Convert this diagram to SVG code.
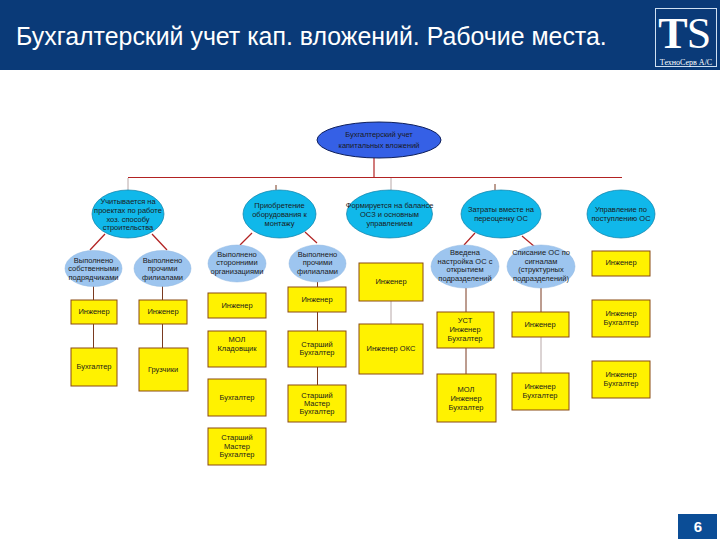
<svg xmlns="http://www.w3.org/2000/svg" width="720" height="540" viewBox="0 0 720 540">
<style>
text{font-family:"Liberation Sans",Arial,sans-serif;text-anchor:middle;fill:#1a1a1a;font-size:7.5px}
.root ellipse{fill:#3560e6;stroke:#10205a;stroke-width:1}
.l1 ellipse{fill:#10b8ea;stroke:#0d7fa8;stroke-width:.7}
.l2 ellipse{fill:#9dc5ef;stroke:#8fb6e0;stroke-width:.5}
.b rect{fill:#fff200;stroke:#8a4a12;stroke-width:1}
#connectors line{stroke:#b22222;stroke-width:1.2}
#connectors line.g{stroke:#b8a8a8;stroke-width:1}
#connectors line.d{stroke:#7a3a20;stroke-width:1}
</style>
<rect width="720" height="540" fill="#fff"/>
<g id="header">
<rect width="720" height="70" fill="#0a3a78"/>
<text x="16" y="45" style="font-size:24.9px;text-anchor:start;fill:#fff">Бухгалтерский учет кап. вложений. Рабочие места.</text>
<rect x="655.500" y="8.500" width="61" height="58" fill="none" stroke="#cfe0f2" stroke-width="1"/>
<text x="673" y="48" style="font-family:'Liberation Serif',serif;font-weight:bold;font-size:44px;fill:#fff">T</text>
<text x="699" y="48" style="font-family:'Liberation Serif',serif;font-size:44px;fill:#fff">S</text>
<text x="686" y="65" style="font-family:'Liberation Serif',serif;font-size:8px;fill:#fff">ТехноСерв А/С</text>
</g>
<g id="connectors">
<line x1="374" y1="158" x2="374" y2="178"/>
<line x1="128" y1="177.500" x2="622" y2="177.500"/>
<line class="g" x1="128" y1="178" x2="128" y2="190"/>
<line class="d" x1="276" y1="185" x2="276" y2="190"/>
<line class="g" x1="391" y1="178" x2="391" y2="190"/>
<line class="d" x1="495" y1="184" x2="495" y2="190"/>
<line x1="105" y1="234" x2="90" y2="250"/>
<line x1="152" y1="234" x2="167" y2="250"/>
<line x1="252" y1="233" x2="240" y2="245"/>
<line x1="305" y1="232" x2="317" y2="243"/>
<line x1="475" y1="233" x2="464" y2="245"/>
<line x1="522" y1="236" x2="535" y2="247"/>
<line class="d" x1="93.500" y1="286" x2="93.500" y2="348"/>
<line class="d" x1="162.500" y1="286" x2="162.500" y2="348"/>
<line class="d" x1="317.500" y1="282" x2="317.500" y2="385"/>
<line class="g" x1="391" y1="301" x2="391" y2="324"/>
<line class="d" x1="466" y1="288" x2="466" y2="374"/>
<line class="d" x1="541" y1="288" x2="541" y2="312"/>
<line class="g" x1="541" y1="337" x2="541" y2="373"/>
</g>
<g id="root" class="root"><ellipse cx="379" cy="140" rx="62" ry="18"/><text x="379" y="137">Бухгалтерский учет</text><text x="379" y="148">капитальных вложений</text></g>
<g id="n1" class="l1"><ellipse cx="128" cy="214" rx="36" ry="24"/><text x="128" y="204">Учитывается на</text><text x="128" y="213">проектах по работе</text><text x="128" y="222">хоз. способу</text><text x="128" y="230">строительства</text></g>
<g id="n2" class="l1"><ellipse cx="279.500" cy="214" rx="36.500" ry="24"/><text x="279.500" y="208">Приобретение</text><text x="279.500" y="217">оборудования к</text><text x="279.500" y="226">монтажу</text></g>
<g id="n3" class="l1"><ellipse cx="389.500" cy="214" rx="43" ry="24"/><text x="389.500" y="208">Формируется на балансе</text><text x="389.500" y="217">ОСЗ и основным</text><text x="389.500" y="226">управлением</text></g>
<g id="n4" class="l1"><ellipse cx="501" cy="214" rx="40" ry="24"/><text x="501" y="212">Затраты вместе на</text><text x="501" y="221">переоценку ОС</text></g>
<g id="n5" class="l1"><ellipse cx="621" cy="214" rx="34" ry="24"/><text x="621" y="212">Управление по</text><text x="621" y="221">поступлению ОС</text></g>
<g id="s1" class="l2"><ellipse cx="93.500" cy="268.500" rx="28.500" ry="18"/><text x="93.500" y="263">Выполнено</text><text x="93.500" y="271">собственными</text><text x="93.500" y="280">подрядчиками</text></g>
<g id="s2" class="l2"><ellipse cx="162.500" cy="268.500" rx="28.500" ry="18"/><text x="162.500" y="263">Выполнено</text><text x="162.500" y="271">прочими</text><text x="162.500" y="280">филиалами</text></g>
<g id="s3" class="l2"><ellipse cx="237" cy="263.500" rx="29" ry="18.500"/><text x="237" y="257">Выполнено</text><text x="237" y="265">сторонними</text><text x="237" y="274">организациями</text></g>
<g id="s4" class="l2"><ellipse cx="317.500" cy="263.500" rx="28.500" ry="18.500"/><text x="317.500" y="257">Выполнено</text><text x="317.500" y="265">прочими</text><text x="317.500" y="274">филиалами</text></g>
<g id="s5" class="l2"><ellipse cx="465" cy="266.500" rx="34" ry="21.500"/><text x="465" y="255">Введена</text><text x="465" y="264">настройка ОС с</text><text x="465" y="272">открытием</text><text x="465" y="281">подразделений</text></g>
<g id="s6" class="l2"><ellipse cx="541" cy="266.500" rx="34" ry="21.500"/><text x="541" y="255">Списание ОС по</text><text x="541" y="264">сигналам</text><text x="541" y="272">(структурных</text><text x="541" y="281">подразделений)</text></g>
<g id="b1" class="b"><rect x="71" y="300" width="46" height="24"/><text x="94" y="314">Инженер</text></g>
<g id="b2" class="b"><rect x="71" y="348" width="46" height="38"/><text x="94" y="369">Бухгалтер</text></g>
<g id="b3" class="b"><rect x="139" y="300" width="48" height="24"/><text x="163" y="314">Инженер</text></g>
<g id="b4" class="b"><rect x="139" y="348" width="49" height="43"/><text x="163" y="372">Грузчики</text></g>
<g id="b5" class="b"><rect x="208" y="293" width="58" height="25"/><text x="237" y="308">Инженер</text></g>
<g id="b6" class="b"><rect x="208" y="331" width="58" height="36"/><text x="237" y="342">МОЛ</text><text x="237" y="351">Кладовщик</text></g>
<g id="b7" class="b"><rect x="208" y="379" width="58" height="37"/><text x="237" y="400">Бухгалтер</text></g>
<g id="b8" class="b"><rect x="208" y="428" width="58" height="37"/><text x="237" y="440">Старший</text><text x="237" y="449">Мастер</text><text x="237" y="457">Бухгалтер</text></g>
<g id="b9" class="b"><rect x="288" y="287" width="58" height="25"/><text x="317" y="302">Инженер</text></g>
<g id="b10" class="b"><rect x="288" y="331" width="58" height="36"/><text x="317" y="347">Старший</text><text x="317" y="355">Бухгалтер</text></g>
<g id="b11" class="b"><rect x="288" y="385" width="58" height="37"/><text x="317" y="398">Старший</text><text x="317" y="406">Мастер</text><text x="317" y="414">Бухгалтер</text></g>
<g id="b12" class="b"><rect x="359" y="263" width="64" height="38"/><text x="391" y="284">Инженер</text></g>
<g id="b13" class="b"><rect x="359" y="324" width="64" height="50"/><text x="391" y="351">Инженер ОКС</text></g>
<g id="b14" class="b"><rect x="437" y="312" width="57" height="36"/><text x="465" y="323">УСТ</text><text x="465" y="332">Инженер</text><text x="465" y="341">Бухгалтер</text></g>
<g id="b15" class="b"><rect x="437" y="374" width="59" height="48"/><text x="466" y="392">МОЛ</text><text x="466" y="401">Инженер</text><text x="466" y="410">Бухгалтер</text></g>
<g id="b16" class="b"><rect x="512" y="312" width="57" height="25"/><text x="540" y="327">Инженер</text></g>
<g id="b17" class="b"><rect x="512" y="373" width="57" height="37"/><text x="540" y="389">Инженер</text><text x="540" y="398">Бухгалтер</text></g>
<g id="b18" class="b"><rect x="592" y="251" width="58" height="25"/><text x="621" y="265">Инженер</text></g>
<g id="b19" class="b"><rect x="592" y="300" width="58" height="37"/><text x="621" y="316">Инженер</text><text x="621" y="325">Бухгалтер</text></g>
<g id="b20" class="b"><rect x="592" y="361" width="58" height="37"/><text x="621" y="377">Инженер</text><text x="621" y="386">Бухгалтер</text></g>
<g id="page"><rect x="678" y="514" width="39" height="25" fill="#0b4d96"/><text x="698" y="532" style="font-size:15px;font-weight:bold;fill:#fff">6</text></g>
</svg>
